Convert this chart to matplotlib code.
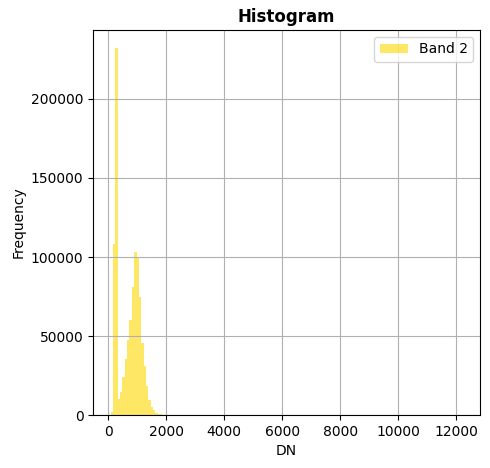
import numpy as np
import matplotlib
matplotlib.use("Agg")
import matplotlib.pyplot as plt

# histogram of band 2, 150 bins between data min and max
dn_min = 90
dn_max = 12222
n_bins = 150
counts_low = [2000, 108000, 232000, 9900, 14700, 24200, 35400, 47500, 60100,
              81200, 103000, 100200, 74900, 45400, 31200, 18500, 9500, 5300,
              3200, 1500, 800, 500, 300, 200, 100, 50]

edges = np.linspace(dn_min, dn_max, n_bins + 1)
centers = (edges[:-1] + edges[1:]) / 2
counts = np.zeros(n_bins)
counts[:len(counts_low)] = counts_low
counts[-1] = 1

fig = plt.figure(figsize=(4.9, 4.68), dpi=100)
plt.hist(centers, bins=edges, weights=counts, color="gold", alpha=0.6, label="Band 2")
plt.title("Histogram", fontweight="bold")
plt.xlabel("DN")
plt.ylabel("Frequency")
plt.legend()
plt.grid()
plt.subplots_adjust(left=0.19, right=0.98, bottom=0.113, top=0.936)
plt.savefig("out.png")
